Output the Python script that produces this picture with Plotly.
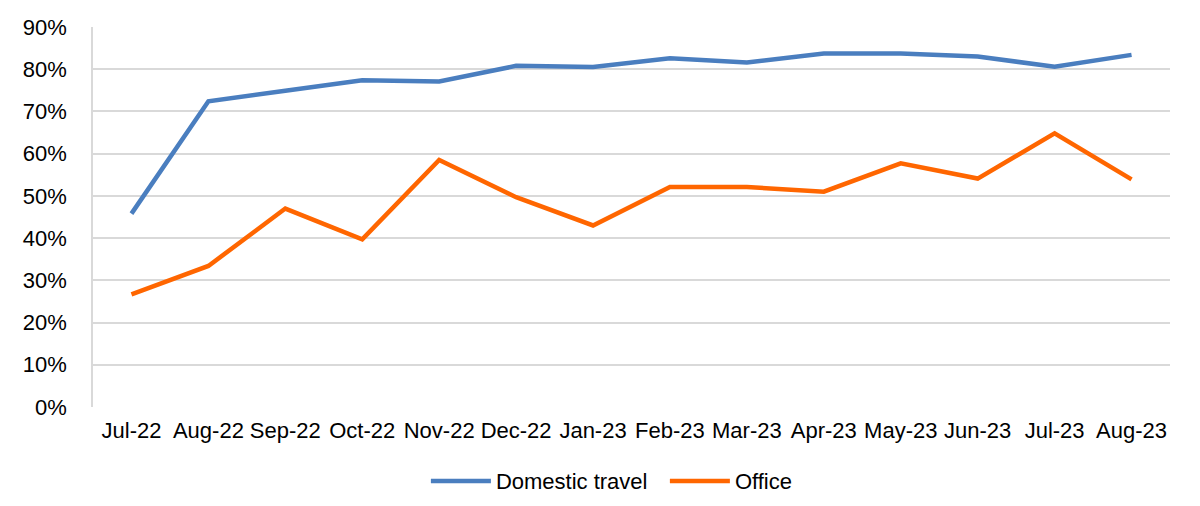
import plotly.graph_objects as go

months = ["Jul-22", "Aug-22", "Sep-22", "Oct-22", "Nov-22", "Dec-22", "Jan-23",
          "Feb-23", "Mar-23", "Apr-23", "May-23", "Jun-23", "Jul-23", "Aug-23"]
domestic_travel = [0.458, 0.724, 0.749, 0.774, 0.771, 0.808, 0.805,
                   0.826, 0.816, 0.837, 0.837, 0.830, 0.806, 0.834]
office = [0.267, 0.334, 0.470, 0.397, 0.585, 0.497, 0.430,
          0.521, 0.521, 0.510, 0.577, 0.541, 0.648, 0.539]

fig = go.Figure()
fig.add_trace(go.Scatter(x=months, y=domestic_travel, name="Domestic travel",
                         mode="lines", line=dict(color="#4A7EBF", width=4.5)))
fig.add_trace(go.Scatter(x=months, y=office, name="Office",
                         mode="lines", line=dict(color="#FF6600", width=4.5)))

# page body adds an 8px offset, margins compensate
fig.update_layout(
    width=1200, height=506,
    margin=dict(l=85, r=38, t=19, b=107, autoexpand=False),
    plot_bgcolor="white", paper_bgcolor="white",
    font=dict(family="Liberation Sans, Arial, sans-serif", size=22, color="black"),
    legend=dict(orientation="h", x=0.531, xanchor="center", y=-0.195, yanchor="middle",
                font=dict(size=22), itemwidth=60, entrywidth=164, entrywidthmode="pixels"),
)
fig.update_xaxes(range=[-0.5, len(months) - 0.5], automargin=False,
                 showgrid=False, showline=False, ticks="", ticklabelstandoff=8)
fig.update_yaxes(range=[0, 0.9], dtick=0.1, tickformat=".0%", automargin=False,
                 showgrid=True, gridcolor="#D9D9D9", gridwidth=1.5,
                 showline=True, linecolor="#D9D9D9", linewidth=1.5,
                 zeroline=False, ticks="", ticklabelstandoff=20)

fig.write_html("out.html")
